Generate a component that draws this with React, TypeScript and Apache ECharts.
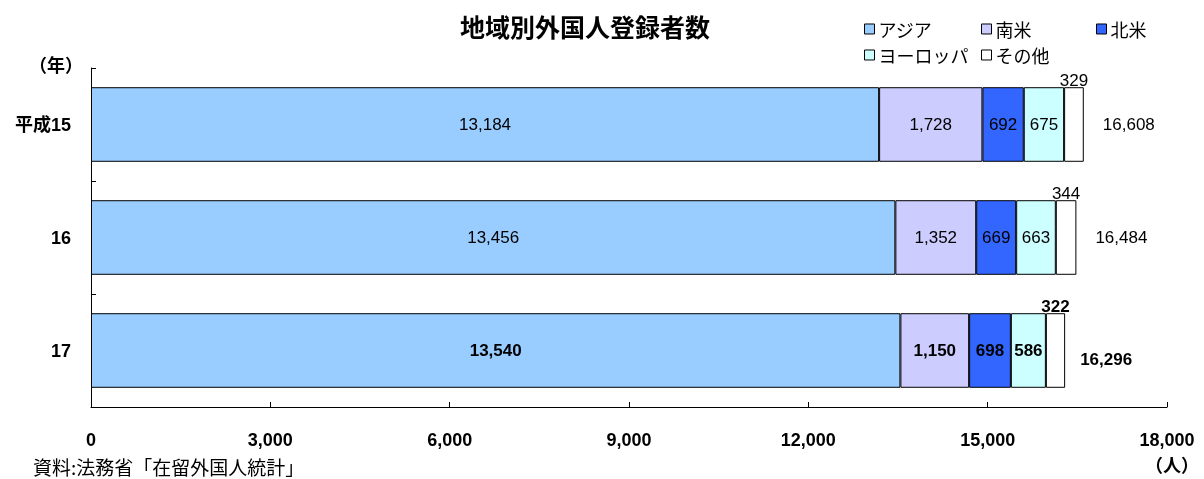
import React, { useEffect, useRef } from "react";
import * as echarts from "echarts";

const categories = ["平成15", "16", "17"];
const seriesNames = ["アジア", "南米", "北米", "ヨーロッパ", "その他"];
const asia = [13184, 13456, 13540];
const southAmerica = [1728, 1352, 1150];
const northAmerica = [692, 669, 698];
const europe = [675, 663, 586];
const other = [329, 344, 322];
const totals = [16608, 16484, 16296];
const boldRows = [false, false, true];
const colors = ["#99CCFF", "#CCCCFF", "#3366FF", "#CCFFFF", "#FFFFFF"];

const FONT = "'Noto Sans CJK JP', sans-serif";
const NUM_FONT = "'Liberation Sans', 'Noto Sans CJK JP', sans-serif";
const fmt = (v: number) => v.toLocaleString("en-US");

export default function App() {
  const ref = useRef<HTMLDivElement>(null);
  useEffect(() => {
    if (!ref.current) return;
    const chart = echarts.init(ref.current, undefined, { renderer: "svg" });
    const values = [asia, southAmerica, northAmerica, europe, other];
    const barSeries = values.map((arr, si) => ({
      name: seriesNames[si],
      type: "bar",
      stack: "total",
      barCategoryGap: "34%",
      itemStyle: { color: colors[si], borderColor: "#000", borderWidth: 1 },
      label: {
        show: true,
        position: si === 4 ? "top" : "inside",
        distance: 0,
        offset: si === 4 ? [0, 2] : [0, 0],
        color: "#000",
        fontSize: 17,
        fontFamily: NUM_FONT,
        formatter: (p: any) => fmt(p.value),
      },
      data: arr.map((v, i) => ({
        value: v,
        label: { fontWeight: boldRows[i] ? "bold" : "normal" },
      })),
    }));
    const legendPos = [
      [864, 20],
      [981, 20],
      [1096, 20],
      [864, 46],
      [981, 46],
    ];
    chart.setOption({
      animation: false,
      title: {
        text: "地域別外国人登録者数",
        left: 455,
        top: 8,
        textStyle: { fontSize: 25, fontWeight: "bold", fontFamily: FONT, color: "#000" },
      },
      legend: seriesNames.map((n, i) => ({
        data: [n],
        left: legendPos[i][0],
        top: legendPos[i][1],
        icon: "rect",
        itemWidth: 10,
        itemHeight: 10,
        itemGap: 4,
        padding: 0,
        itemStyle: { borderColor: "#000", borderWidth: 1 },
        textStyle: { fontSize: 18, fontFamily: FONT, color: "#000", padding: [0, 0, 0, -1] },
      })),
      grid: { left: 91, right: 37, top: 68, bottom: 72 },
      xAxis: {
        type: "value",
        min: 0,
        max: 18000,
        interval: 3000,
        axisLine: { show: true, lineStyle: { color: "#000" } },
        axisTick: { show: true, inside: true, length: 5, lineStyle: { color: "#000" } },
        splitLine: { show: false },
        axisLabel: {
          margin: 24,
          fontSize: 18,
          fontWeight: "bold",
          color: "#000",
          fontFamily: NUM_FONT,
          formatter: (v: number) => fmt(v),
        },
      },
      yAxis: {
        type: "category",
        inverse: true,
        data: categories,
        axisLine: { show: true, lineStyle: { color: "#000" } },
        axisTick: { show: true, inside: true, length: 5, lineStyle: { color: "#000" } },
        axisLabel: {
          margin: 20,
          fontSize: 18,
          fontWeight: "bold",
          color: "#000",
          fontFamily: NUM_FONT,
        },
      },
      series: [
        ...barSeries,
        {
          name: "合計",
          type: "scatter",
          symbolSize: 0,
          silent: true,
          itemStyle: { opacity: 1, color: "#000" },
          label: {
            show: true,
            position: "right",
            distance: 19,
            color: "#000",
            opacity: 1,
            fontSize: 17,
            fontFamily: NUM_FONT,
            formatter: (p: any) => fmt(totals[p.dataIndex]),
          },
          data: totals.map((t, i) => ({
            value: [t, categories[i]],
            label: {
              fontWeight: boldRows[i] ? "bold" : "normal",
              offset: boldRows[i] ? [-4, 9] : [0, 0],
            },
          })),
        },
      ],
      graphic: [
        {
          type: "text",
          left: 29,
          top: 55,
          style: { text: "（年）", fontSize: 18, fontWeight: "bold", fontFamily: FONT, fill: "#000" },
        },
        {
          type: "text",
          left: 1145,
          top: 455,
          style: { text: "（人）", fontSize: 18, fontWeight: "bold", fontFamily: FONT, fill: "#000" },
        },
        {
          type: "text",
          left: 33,
          top: 457,
          style: { text: "資料:法務省「在留外国人統計」", fontSize: 19, fontFamily: FONT, fill: "#000" },
        },
      ],
    });
    return () => chart.dispose();
  }, []);
  return (
    <div
      ref={ref}
      style={{ position: "fixed", left: 0, top: 0, width: 1204, height: 479 }}
    />
  );
}
